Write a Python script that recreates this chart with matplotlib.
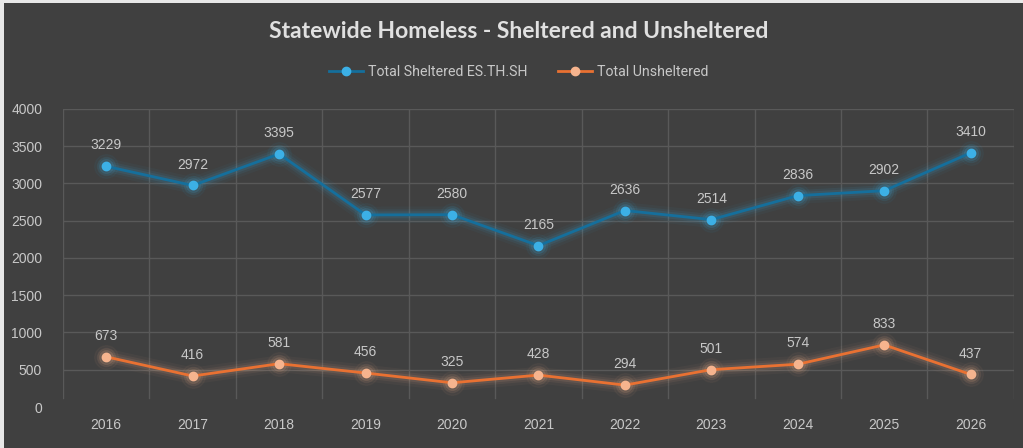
import matplotlib
matplotlib.use("Agg")
import matplotlib.pyplot as plt
from matplotlib.lines import Line2D

years = ["2016", "2017", "2018", "2019", "2020", "2021", "2022", "2023", "2024", "2025", "2026"]
sheltered = [3229, 2972, 3395, 2577, 2580, 2165, 2636, 2514, 2836, 2902, 3410]
unsheltered = [673, 416, 581, 456, 325, 428, 294, 501, 574, 833, 437]
yticks = [0, 500, 1000, 1500, 2000, 2500, 3000, 3500, 4000]

BG = "#404040"
GRID = "#595959"
TXT = "#c8c8c8"
BLUE_LINE = "#156f9c"
BLUE_MK = "#3cb0e6"
OR_LINE = "#e97132"
OR_MK = "#f6b48e"

fig = plt.figure(figsize=(10.23, 4.48), dpi=100, facecolor="#e8e8e8")
bgax = fig.add_axes([0.004, 0, 0.996, 0.994])
bgax.set_facecolor(BG)
bgax.set_xticks([]); bgax.set_yticks([])
for s in bgax.spines.values():
    s.set_visible(False)

ax = fig.add_axes([0.0616, 0.0915, 0.9295, 0.6655])
ax.set_facecolor(BG)
x = list(range(len(years)))
ax.set_xlim(-0.5, len(years) - 0.5)
ax.set_ylim(0, 4000)
ax.set_yticks(yticks)
ax.set_xticks(x)
ax.set_xticklabels(years)
for s in ax.spines.values():
    s.set_visible(False)
for yv in yticks[1:]:
    ax.axhline(yv, color=GRID, lw=1, zorder=0)
for b in range(len(years) + 1):
    ax.axvline(b - 0.5, ymin=0.03, color=GRID, lw=1, zorder=0)
ax.tick_params(axis="both", length=0, colors=TXT, labelsize=10, pad=8)
for lab in ax.get_xticklabels() + ax.get_yticklabels():
    lab.set_fontfamily("Liberation Sans")
ax.tick_params(axis="y", pad=15)

def draw(vals, lc, mc):
    for lw, a in [(12, 0.04), (8, 0.07), (5, 0.10)]:
        ax.plot(x, vals, color=mc, lw=lw, alpha=a, solid_capstyle="round", zorder=2)
        ax.plot(x, vals, "o", color=mc, ms=lw + 5, alpha=a, zorder=2)
    ax.plot(x, vals, color=lc, lw=2.0, zorder=3)
    ax.plot(x, vals, "o", color=mc, ms=6, mec=mc, zorder=4)
    for xi, v in zip(x, vals):
        ax.annotate(str(v), (xi, v), xytext=(0, 10), textcoords="offset points",
                    ha="center", va="bottom", color=TXT, fontsize=10,
                    fontfamily="Liberation Sans", zorder=5)

draw(sheltered, BLUE_LINE, BLUE_MK)
draw(unsheltered, OR_LINE, OR_MK)

fig.text(0.507, 0.929, "Statewide Homeless - Sheltered and Unsheltered", ha="center", va="center",
         color="#e0e0e0", fontsize=16.5, fontweight="bold", fontfamily="Lato")

handles = [Line2D([0], [0], color=BLUE_LINE, lw=2, marker="o", mfc=BLUE_MK, mec=BLUE_MK, ms=6),
           Line2D([0], [0], color=OR_LINE, lw=2, marker="o", mfc=OR_MK, mec=OR_MK, ms=6)]
leg = fig.legend(handles, ["Total Sheltered ES.TH.SH", "Total Unsheltered"], loc="center",
                 bbox_to_anchor=(0.507, 0.839), ncol=2, frameon=False,
                 handlelength=2.4, columnspacing=2.2, handletextpad=0.3,
                 prop={"family": "Roboto", "size": 10.2})
for t in leg.get_texts():
    t.set_color(TXT)

fig.savefig("out.png", dpi=100, facecolor=fig.get_facecolor())
